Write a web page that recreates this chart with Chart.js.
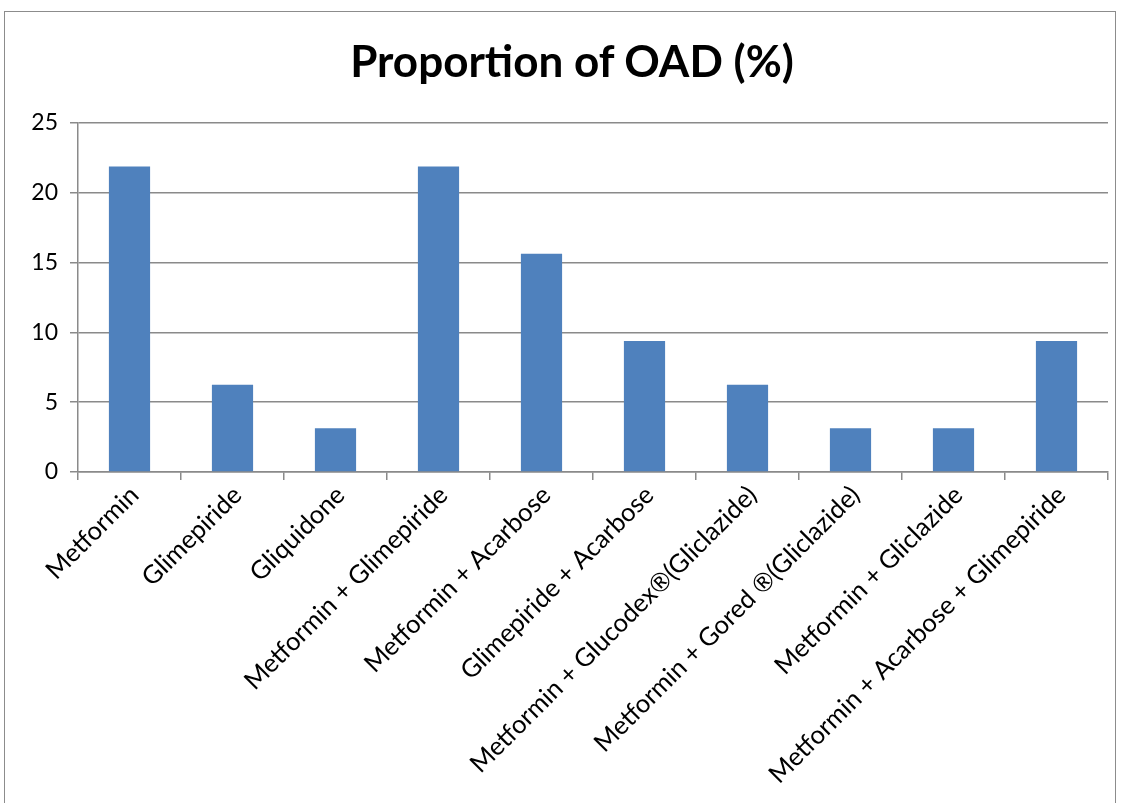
<!DOCTYPE html>
<html>
<head>
<meta charset="utf-8">
<script src="https://cdn.jsdelivr.net/npm/chart.js@4/dist/chart.umd.min.js"></script>
<style>
html,body{margin:0;padding:0;background:#fff;overflow:hidden;}
#wrap{position:absolute;left:0;top:0;width:1125px;height:803px;}
#frame{position:absolute;left:4px;top:11px;width:1112px;height:820px;border:1.5px solid #8c8c8c;box-sizing:border-box;}
#title{position:absolute;left:272px;width:600px;top:34px;height:53px;line-height:53px;text-align:center;
  font-family:Lato,'Open Sans',sans-serif;font-weight:bold;font-size:44px;color:#000;margin:0;}
canvas{position:absolute;left:0;top:0;}
</style>
</head>
<body>
<div id="wrap">
<div id="frame"></div>
<canvas id="c" width="1125" height="803"></canvas>
<div id="title"></div>
</div>
<script>
const categories = [
  "Metformin",
  "Glimepiride",
  "Gliquidone",
  "Metformin + Glimepiride",
  "Metformin + Acarbose",
  "Glimepiride + Acarbose",
  "Metformin + Glucodex\u00AE(Gliclazide)",
  "Metformin + Gored \u00AE(Gliclazide)",
  "Metformin + Gliclazide",
  "Metformin + Acarbose + Glimepiride"
];
const proportions = [21.88, 6.25, 3.13, 21.88, 15.63, 9.38, 6.25, 3.13, 3.13, 9.38];
const yTicks = [0, 5, 10, 15, 20, 25];
const titleText = "Proportion of OAD (%)";

document.getElementById('title').textContent = titleText;

const FONT = "Lato, 'Open Sans', sans-serif";
const GRID = "#8a8a8a";

new Chart(document.getElementById('c'), {
  type: 'bar',
  data: {
    labels: categories,
    datasets: [{
      data: proportions,
      backgroundColor: '#4F81BD',
      borderWidth: 0,
      barPercentage: 0.4,
      categoryPercentage: 1.0
    }]
  },
  options: {
    responsive: false,
    animation: false,
    devicePixelRatio: 1,
    layout: { padding: { left: 0, right: 17, top: 123, bottom: 0 } },
    plugins: {
      legend: { display: false },
      tooltip: { enabled: false },
      title: { display: false }
    },
    scales: {
      x: {
        offset: true,
        grid: {
          offset: true,
          drawOnChartArea: false,
          drawTicks: true,
          tickLength: 8,
          color: GRID,
          lineWidth: 1.5
        },
        border: { display: true, color: GRID, width: 1.5 },
        ticks: {
          maxRotation: 45,
          minRotation: 45,
          autoSkip: false,
          color: '#000',
          padding: 0,
          labelOffset: 5,
          font: { family: FONT, size: 25.5 }
        },
        afterFit: (s) => { s.height = 331; }
      },
      y: {
        min: 0,
        max: 25,
        afterBuildTicks: (s) => { s.ticks = yTicks.map(v => ({ value: v })); },
        grid: {
          color: GRID,
          lineWidth: 1.5,
          drawTicks: true,
          tickLength: 8
        },
        border: { display: true, color: GRID, width: 1.5 },
        ticks: {
          color: '#000',
          padding: 12,
          font: { family: FONT, size: 23 }
        },
        afterFit: (s) => { s.width = 78; }
      }
    }
  }
});
</script>
</body>
</html>
